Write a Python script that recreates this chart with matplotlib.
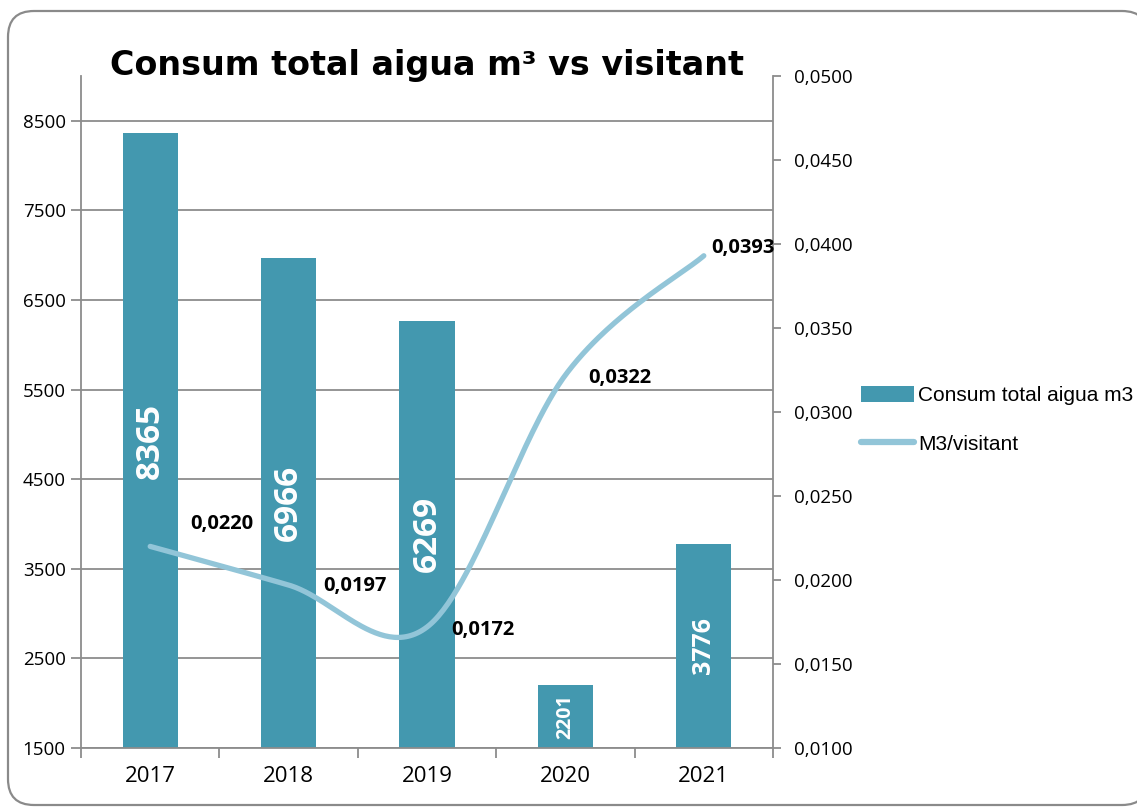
import numpy as np
import matplotlib
matplotlib.use("Agg")
import matplotlib.pyplot as plt
from matplotlib.patches import FancyBboxPatch, Patch
from matplotlib.lines import Line2D
from matplotlib.transforms import IdentityTransform

# dades
anys = ["2017", "2018", "2019", "2020", "2021"]
consum = [8365, 6966, 6269, 2201, 3776]
m3_visitant = [0.0220, 0.0197, 0.0172, 0.0322, 0.0393]

esq_ticks = [1500, 2500, 3500, 4500, 5500, 6500, 7500, 8500]
dre_ticks = [0.0100, 0.0150, 0.0200, 0.0250, 0.0300, 0.0350, 0.0400, 0.0450, 0.0500]

# estil
color_barra = "#4398AF"
color_linia = "#92C5D8"
gris = "#8C8C8C"
font_num = "Open Sans"
mida_etiq_barra = [24, 24, 24, 14, 18]
# desplaçament (px) de les etiquetes de la línia
despl = [(40, 22), (35, -1), (24, -3), (23, -3), (7, 8)]


def fmt(v):
    return f"{v:.4f}".replace(".", ",")


def corba_suau(x, y, n=60):
    # corba tipus Excel (bezier amb punts de control Catmull-Rom)
    p = np.column_stack([x, y]).astype(float)
    p_ext = np.vstack([p[0], p, p[-1]])
    out = []
    for i in range(len(p) - 1):
        p0 = p_ext[i + 1]
        p3 = p_ext[i + 2]
        c1 = p0 + (p_ext[i + 2] - p_ext[i]) / 6
        c2 = p3 - (p_ext[i + 3] - p_ext[i + 1]) / 6
        t = np.linspace(0, 1, n)[:, None]
        seg = ((1 - t) ** 3 * p0 + 3 * (1 - t) ** 2 * t * c1
               + 3 * (1 - t) * t ** 2 * c2 + t ** 3 * p3)
        out.append(seg if i == 0 else seg[1:])
    s = np.vstack(out)
    return s[:, 0], s[:, 1]


fig = plt.figure(figsize=(11.37, 8.07), dpi=100)

# marc arrodonit
marc = FancyBboxPatch((8, 2), 1140, 794, boxstyle="round,pad=0,rounding_size=26",
                      transform=IdentityTransform(), facecolor="white",
                      edgecolor="#8A8A8A", linewidth=1.6, zorder=-10)
fig.patches.append(marc)

ax = fig.add_axes([81 / 1137, 59 / 807, 692 / 1137, 672 / 807])
ax.set_facecolor("none")
x = np.arange(len(anys))

ax.bar(x, np.array(consum) - 1500, bottom=1500, width=0.4, color=color_barra, zorder=2)
ax.set_xlim(-0.5, len(anys) - 0.5)
ax.set_ylim(1500, 9000)
ax.set_yticks(esq_ticks)
ax.set_yticklabels([str(t) for t in esq_ticks], fontsize=13.5, family=font_num)
ax.yaxis.grid(True, color=gris, linewidth=1.3, zorder=0)
ax.set_axisbelow(True)

ax.set_xticks(np.arange(-0.5, len(anys)), labels=[""] * (len(anys) + 1))
ax.set_xticks(x, minor=True)
ax.set_xticklabels(anys, minor=True, fontsize=16, family=font_num)
ax.tick_params(axis="x", which="minor", length=0, pad=13)
ax.tick_params(axis="x", which="major", length=7, width=1.3, color=gris)
ax.tick_params(axis="y", length=7, width=1.3, color=gris, pad=4)

for s in ["top", "right"]:
    ax.spines[s].set_visible(False)
for s in ["left", "bottom"]:
    ax.spines[s].set_color(gris)
    ax.spines[s].set_linewidth(1.3)

for xi, v, fs in zip(x, consum, mida_etiq_barra):
    ax.text(xi, (1500 + v) / 2, str(v), rotation=90, ha="center", va="center",
            color="white", fontsize=fs, fontweight="bold", family=font_num, zorder=3)

# eix dret
ax2 = ax.twinx()
ax2.set_ylim(0.0100, 0.0500)
ax2.set_yticks(dre_ticks)
ax2.set_yticklabels([fmt(t) for t in dre_ticks], fontsize=13.5, family=font_num)
ax2.tick_params(axis="y", length=6, width=1.3, color=gris, pad=9)
for s in ["top", "left", "bottom"]:
    ax2.spines[s].set_visible(False)
ax2.spines["right"].set_color(gris)
ax2.spines["right"].set_linewidth(1.3)

cx, cy = corba_suau(x, m3_visitant)
ax2.plot(cx, cy, color=color_linia, linewidth=3.8, solid_capstyle="round", zorder=4)

for xi, v, (dx, dy) in zip(x, m3_visitant, despl):
    ax2.annotate(fmt(v), (xi, v), xytext=(dx, dy), textcoords="offset pixels",
                 ha="left", va="center", fontsize=14.5, fontweight="bold",
                 family=font_num, color="black", zorder=5)

fig.text(427 / 1137, 1 - 65 / 807, "Consum total aigua m³ vs visitant",
         ha="center", va="center", fontsize=24, fontweight="heavy",
         family="DejaVu Sans")

handles = [Patch(facecolor=color_barra, edgecolor="none"),
           Line2D([0], [0], color=color_linia, linewidth=4.5, solid_capstyle="round")]
fig.legend(handles, ["Consum total aigua m3", "M3/visitant"],
           loc="upper left", bbox_to_anchor=(861 / 1137, 1 - 386 / 807),
           frameon=False, borderpad=0, borderaxespad=0,
           handlelength=2.55, handleheight=0.8, handletextpad=0.2,
           labelspacing=1.4,
           prop={"family": ["Liberation Sans Narrow", "Liberation Sans"], "size": 15})

fig.savefig("out.png", dpi=100)
